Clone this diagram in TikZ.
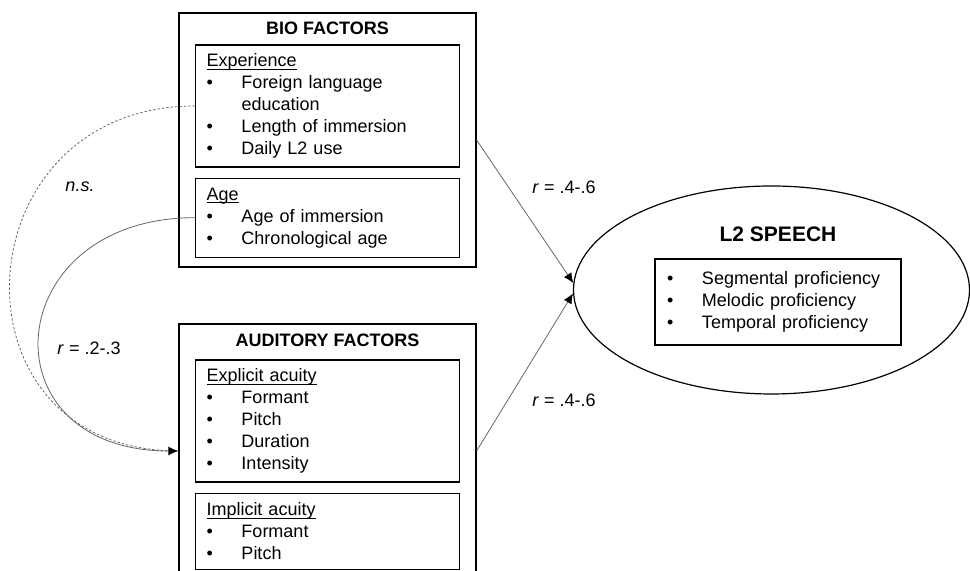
\documentclass[tikz,border=0pt]{standalone}
\usepackage{fontspec}
\setmainfont{Liberation Sans}
\usetikzlibrary{positioning, arrows.meta, shapes.geometric}
\newcommand{\blt}{\makebox[17.5pt][l]{\textbullet}}
\newcommand{\ind}{\hspace*{17.5pt}}
\newcommand{\head}[1]{\underline{\smash{#1}}\vphantom{#1}}

\begin{document}
\begin{tikzpicture}[
    x=0.5pt, y=0.5pt,
    >={Latex[length=5pt, width=4.4pt, black]},
    outer/.style={draw, line width=0.6pt, minimum width=148.5pt, minimum height=127pt},
    inbox/.style={draw, line width=0.6pt, text width=121pt, inner xsep=5.5pt, inner ysep=0pt,
                  align=left, font=\fontsize{9}{11}\selectfont},
    title/.style={inner sep=0pt, font=\fontsize{9}{11}\selectfont\bfseries},
    annot/.style={inner sep=0pt, font=\fontsize{9}{11}\selectfont},
    link/.style={draw=black!60, line width=0.4pt},
]
\useasboundingbox (0,0) rectangle (970,571);

% bio factors
\node[outer] (bio) at (327.5,431) {};
\node[title] (biot) at ([yshift=-8pt]bio.north) {BIO FACTORS};
\node[inbox, minimum height=61pt, below=16pt of bio.north] (exp)
    {\head{Experience}\\ \blt Foreign language\\ \ind education\\ \blt Length of immersion\\ \blt Daily L2 use};
\node[inbox, minimum height=39.5pt, below=5pt of exp] (age)
    {\head{Age}\\ \blt Age of immersion\\ \blt Chronological age};

% auditory factors
\node[outer] (aud) at (327.5,120) {};
\node[title] (audt) at ([yshift=-8.5pt]aud.north) {AUDITORY FACTORS};
\node[inbox, minimum height=61pt, below=18pt of aud.north] (expl)
    {\head{Explicit acuity}\\ \blt Formant\\ \blt Pitch\\ \blt Duration\\ \blt Intensity};
\node[inbox, minimum height=38pt, below=5pt of expl] (impl)
    {\head{Implicit acuity}\\ \blt Formant\\ \blt Pitch};

% L2 speech
\node[ellipse, draw, line width=0.6pt, minimum width=198pt, minimum height=104pt] (l2) at (771.5,281) {};
\node[inbox, text width=111pt, inner xsep=6pt, minimum height=43pt] (prof) at ([xshift=3.25pt, yshift=-6pt]l2.center)
    {\blt Segmental proficiency\\ \blt Melodic proficiency\\ \blt Temporal proficiency};
\node[title, font=\fontsize{10.5}{12}\selectfont\bfseries, above=8.25pt of prof] (l2t) {L2 SPEECH};

% links
\draw[link, ->] (bio.east) -- (l2.178);
\draw[link, ->] (aud.east) -- (l2.181.5);
\draw[link, dash pattern=on 1.2pt off 1pt] (exp.west) .. controls +(-236,0) and +(-236,0) .. (aud.west);
\draw[link, ->] (age.west) .. controls +(-196,0) and +(-196,0) .. (aud.west);

\node[annot] (ns) at (80,384) {\textit{n.s.}};
\node[annot] (rba) at (89,223) {\textit{r} = .2-.3};
\node[annot] (rbio) at (564,384) {\textit{r} = .4-.6};
\node[annot] (raud) at (564,171) {\textit{r} = .4-.6};

\end{tikzpicture}
\end{document}
